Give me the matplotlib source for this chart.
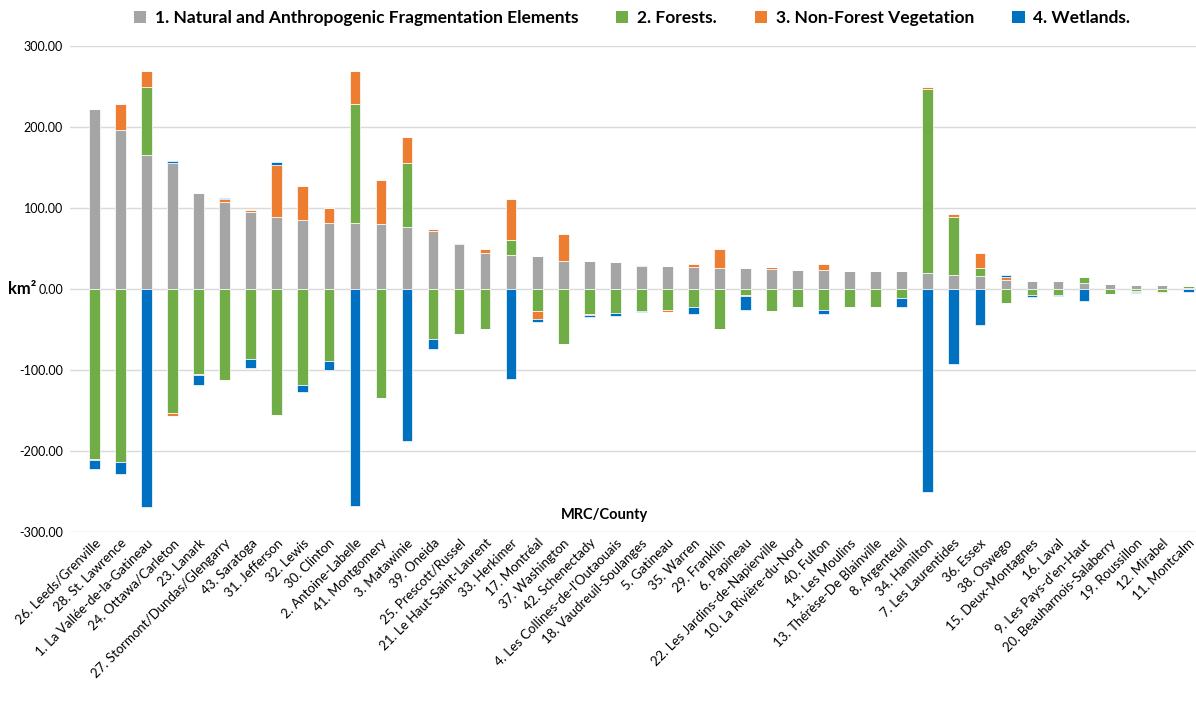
import numpy as np
import matplotlib
matplotlib.use("Agg")
import matplotlib.pyplot as plt
from matplotlib.patches import Patch

plt.rcParams['font.family'] = ['Lato', 'DejaVu Sans']

counties = [
    "26. Leeds/Grenville", "28. St. Lawrence", "1. La Vallée-de-la-Gatineau",
    "24. Ottawa/Carleton", "23. Lanark", "27. Stormont/Dundas/Glengarry",
    "43. Saratoga", "31. Jefferson", "32. Lewis", "30. Clinton",
    "2. Antoine-Labelle", "41. Montgomery", "3. Matawinie", "39. Oneida",
    "25. Prescott/Russel", "21. Le Haut-Saint-Laurent", "33. Herkimer",
    "17. Montréal", "37. Washington", "42. Schenectady",
    "4. Les Collines-de-l'Outaouais", "18. Vaudreuil-Soulanges", "5. Gatineau",
    "35. Warren", "29. Franklin", "6. Papineau", "22. Les Jardins-de-Napierville",
    "10. La Rivière-du-Nord", "40. Fulton", "14. Les Moulins",
    "13. Thérèse-De Blainville", "8. Argenteuil", "34. Hamilton",
    "7. Les Laurentides", "36. Essex", "38. Oswego", "15. Deux-Montagnes",
    "16. Laval", "9. Les Pays-d'en-Haut", "20. Beauharnois-Salaberry",
    "19. Roussillon", "12. Mirabel", "11. Montcalm",
]

# net change per class (km2)
fragmentation = [222, 196, 165, 156, 118.5, 107, 95.5, 89, 85, 82,
                 82, 80, 77, 72, 55.5, 44, 42, 41, 35, 34,
                 33, 28.8, 28, 27, 26, 25.9, 24.5, 23, 23.5, 22.6,
                 22, 22, 19.3, 17.3, 16.5, 10.7, 9.5, 9.5, 7.6, 6,
                 5.3, 4.5, 1]
forests = [-210, -213, 84, -153, -105, -112, -87, -156, -119, -88.5,
           147, -134, 79, -62, -56, -49, 18.5, -27, -68, -31,
           -30, -27, -26.5, -22.2, -49, -7, -27.6, -22.2, -26.5, -22.4,
           -22, -10.7, 228, 71, 9, -16.8, -7.8, -7, 7, -6,
           -2.9, -4.2, 2.5]
non_forest = [-1, 33, 20, -4, -1, 4, 1.5, 64, 42.5, 17.5,
              40, 55, 32, 2, 1, 5, 50.5, -10, 33, -0.5,
              0, 0.4, -2, 3.5, 23, -1.2, 3, -0.6, 7.5, 0,
              0, 0.5, 2.5, 4, 18.5, 4.3, 0, -0.3, 0, 0,
              -1.2, -0.3, 0]
wetlands = [-11, -16, -269, 1.5, -12.5, 1.5, -10, 3.5, -8, -11,
            -268, -1, -188, -12, 0, 0, -111, -4, -0.5, -2.5,
            -3, -2, 1, -8.3, 0.8, -17.5, 0, 0, -4.5, 0,
            0, -12, -250, -92.5, -44, 1.8, -1.5, -1.5, -14.6, 0,
            -1.2, 0, -3.5]

series = [
    ("1. Natural and Anthropogenic Fragmentation Elements", fragmentation, "#A5A5A5"),
    ("2. Forests.", forests, "#70AD47"),
    ("3. Non-Forest Vegetation", non_forest, "#ED7D31"),
    ("4. Wetlands.", wetlands, "#0070C0"),
]

W, H = 1196, 704
fig = plt.figure(figsize=(W / 100, H / 100), dpi=100)
ax = fig.add_axes([70 / W, 1 - 532 / H, (1196 - 70) / W, (532 - 46) / H])

x = np.arange(len(counties))
pos_base = np.zeros(len(counties))
neg_base = np.zeros(len(counties))
handles = []
for name, vals, color in series:
    v = np.array(vals, dtype=float)
    pos = np.where(v > 0, v, 0)
    neg = np.where(v < 0, v, 0)
    ax.bar(x, pos, 0.41, bottom=pos_base, color=color, edgecolor="white",
           linewidth=0.5, zorder=3)
    ax.bar(x, neg, 0.41, bottom=neg_base, color=color, edgecolor="white",
           linewidth=0.5, zorder=3)
    pos_base += pos
    neg_base += neg
    handles.append(Patch(facecolor=color, label=name))

ax.set_ylim(-300, 300)
ax.set_xlim(-0.94, 42.3)
ax.set_yticks(np.arange(-300, 301, 100))
ax.set_yticklabels([f"{t:.2f}" for t in np.arange(-300, 301, 100)], fontsize=9)
ax.grid(axis="y", color="#D9D9D9", linewidth=1, zorder=0)
for s in ax.spines.values():
    s.set_visible(False)
ax.tick_params(axis="both", length=0)
ax.tick_params(axis="y", pad=5)
ax.set_xticks(x)
ax.set_xticklabels(counties, rotation=45, ha="right", rotation_mode="anchor",
                   fontsize=9.5)

fig.text(8 / W, 1 - 289 / H, "km²", fontsize=12, fontweight="bold",
         va="center", ha="left")
fig.text(604 / W, 1 - 515 / H, "MRC/County", fontsize=10.5, fontweight="bold",
         va="center", ha="center")

fig.legend(handles=handles, loc="center", bbox_to_anchor=(632 / W, 1 - 18 / H),
           ncol=4, frameon=False, handlelength=0.7, handleheight=0.7,
           handletextpad=0.5, columnspacing=2.2,
           prop={"weight": "bold", "size": 12.5})

fig.savefig("out.png", dpi=100)
